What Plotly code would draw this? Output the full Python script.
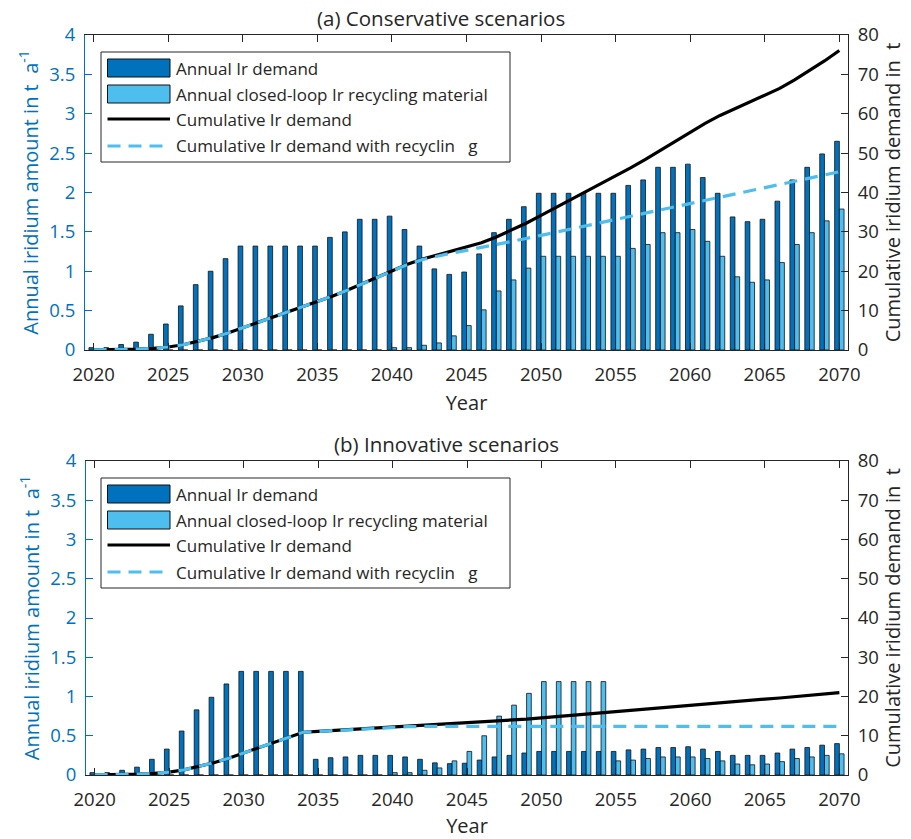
import plotly.graph_objects as go

W, H = 911, 839

years = list(range(2020, 2071))

# (a) Conservative scenarios (t/a, left axis)
cons_demand = [0.03, 0.03, 0.07, 0.10, 0.20, 0.33, 0.56, 0.83, 1.00, 1.16,
               1.32, 1.32, 1.32, 1.32, 1.32, 1.32, 1.43, 1.50, 1.66, 1.66,
               1.70, 1.53, 1.32, 1.03, 0.96, 0.99, 1.22, 1.49, 1.66, 1.82,
               1.99, 1.99, 1.99, 1.99, 1.99, 1.99, 2.09, 2.16, 2.32, 2.32,
               2.36, 2.19, 1.99, 1.69, 1.63, 1.66, 1.89, 2.16, 2.32, 2.49,
               2.65]
cons_recycling = [0, 0, 0, 0, 0, 0, 0, 0, 0, 0,
                  0, 0, 0, 0, 0, 0, 0, 0, 0, 0,
                  0.03, 0.03, 0.06, 0.09, 0.18, 0.31, 0.51, 0.75, 0.89, 1.04,
                  1.19, 1.19, 1.19, 1.19, 1.19, 1.19, 1.29, 1.34, 1.49, 1.49,
                  1.53, 1.38, 1.19, 0.93, 0.86, 0.89, 1.11, 1.34, 1.49, 1.64,
                  1.79]
# cumulative (t, right axis)
cons_cum = [0.03, 0.06, 0.13, 0.23, 0.43, 0.76, 1.32, 2.15, 3.15, 4.31,
            5.63, 6.95, 8.27, 9.59, 10.91, 12.23, 13.66, 15.16, 16.82, 18.48,
            20.18, 21.71, 23.03, 24.06, 25.02, 26.01, 27.23, 28.72, 30.38, 32.20,
            34.19, 36.18, 38.17, 40.16, 42.15, 44.14, 46.23, 48.39, 50.71, 53.03,
            55.39, 57.58, 59.57, 61.26, 62.89, 64.55, 66.44, 68.60, 70.92, 73.41,
            76.06]
cons_cum_rec = [0.03, 0.06, 0.13, 0.23, 0.43, 0.76, 1.32, 2.15, 3.15, 4.31,
                5.63, 6.95, 8.27, 9.59, 10.91, 12.23, 13.66, 15.16, 16.82, 18.48,
                20.15, 21.65, 22.91, 23.85, 24.63, 25.31, 26.02, 26.76, 27.53, 28.31,
                29.11, 29.91, 30.71, 31.51, 32.31, 33.11, 33.91, 34.73, 35.56, 36.39,
                37.22, 38.03, 38.83, 39.59, 40.36, 41.13, 41.91, 42.73, 43.56, 44.41,
                45.27]

# (b) Innovative scenarios
inno_demand = [0.03, 0.03, 0.06, 0.10, 0.20, 0.33, 0.56, 0.83, 0.99, 1.16,
               1.32, 1.32, 1.32, 1.32, 1.32, 0.20, 0.22, 0.23, 0.25, 0.25,
               0.25, 0.23, 0.20, 0.155, 0.145, 0.15, 0.19, 0.23, 0.25, 0.28,
               0.30, 0.30, 0.30, 0.30, 0.30, 0.30, 0.32, 0.33, 0.35, 0.35,
               0.36, 0.33, 0.30, 0.25, 0.25, 0.25, 0.28, 0.33, 0.35, 0.38,
               0.40]
inno_recycling = [0, 0, 0, 0, 0, 0, 0, 0, 0, 0,
                  0, 0, 0, 0, 0, 0, 0, 0, 0, 0,
                  0.03, 0.03, 0.06, 0.09, 0.18, 0.30, 0.50, 0.75, 0.89, 1.04,
                  1.19, 1.19, 1.19, 1.19, 1.19, 0.18, 0.19, 0.21, 0.23, 0.23,
                  0.23, 0.21, 0.18, 0.14, 0.13, 0.14, 0.17, 0.21, 0.23, 0.25,
                  0.27]
inno_cum = [0.03, 0.06, 0.12, 0.22, 0.42, 0.75, 1.31, 2.14, 3.13, 4.29,
            5.61, 6.93, 8.25, 9.57, 10.89, 11.09, 11.31, 11.54, 11.79, 12.04,
            12.29, 12.52, 12.72, 12.88, 13.02, 13.20, 13.42, 13.68, 13.95, 14.25,
            14.57, 14.89, 15.21, 15.52, 15.83, 16.14, 16.47, 16.81, 17.17, 17.53,
            17.90, 18.24, 18.55, 18.81, 19.07, 19.33, 19.62, 19.96, 20.32, 20.71,
            21.00]
inno_cum_rec = [0.03, 0.06, 0.12, 0.22, 0.42, 0.75, 1.31, 2.14, 3.13, 4.29,
                5.61, 6.93, 8.25, 9.57, 10.89, 11.09, 11.31, 11.54, 11.79, 12.04,
                12.20, 12.30, 12.38, 12.40, 12.40, 12.40, 12.40, 12.40, 12.40, 12.40,
                12.40, 12.40, 12.40, 12.40, 12.40, 12.40, 12.40, 12.40, 12.40, 12.40,
                12.40, 12.40, 12.40, 12.40, 12.40, 12.40, 12.40, 12.40, 12.40, 12.40,
                12.40]

legend_labels = ["Annual Ir demand",
                 "Annual closed-loop Ir recycling material",
                 "Cumulative Ir demand",
                 "Cumulative Ir demand with recyclin\u00a0\u00a0\u00a0g"]
titles = ["(a) Conservative scenarios", "(b) Innovative scenarios"]
xticks = list(range(2020, 2071, 5))

DARK = "#0072BD"
LIGHT = "#4DBEEE"
TXT = "#262626"
FONT = "Open Sans"


def px(x):
    return x / W


def py(y):
    return 1 - y / H


# panel pixel boxes (left, right, top, bottom)
panels = [(85, 848, 35, 350), (86, 848, 461, 775)]
title_cx = [441, 446]
data = [(cons_demand, cons_recycling, cons_cum, cons_cum_rec),
        (inno_demand, inno_recycling, inno_cum, inno_cum_rec)]

fig = go.Figure()
shapes = []
annotations = []
layout_axes = {}

for i, ((L, R, T, B), (dem, rec, cum, cumrec)) in enumerate(zip(panels, data)):
    xa = "x" if i == 0 else "x2"
    ya = "y" if i == 0 else "y3"
    ya2 = "y2" if i == 0 else "y4"
    fig.add_trace(go.Bar(x=years, y=dem, name=legend_labels[0], xaxis=xa, yaxis=ya,
                         marker=dict(color=DARK, line=dict(color="#111111", width=0.8)),
                         showlegend=False))
    fig.add_trace(go.Bar(x=years, y=rec, name=legend_labels[1], xaxis=xa, yaxis=ya,
                         marker=dict(color=LIGHT, line=dict(color="#111111", width=0.8)),
                         showlegend=False))
    fig.add_trace(go.Scatter(x=years, y=cum, name=legend_labels[2], xaxis=xa, yaxis=ya2,
                             mode="lines", line=dict(color="black", width=3.2),
                             showlegend=False))
    fig.add_trace(go.Scatter(x=years, y=cumrec, name=legend_labels[3], xaxis=xa, yaxis=ya2,
                             mode="lines", line=dict(color=LIGHT, width=3.2, dash="13px,8px"),
                             showlegend=False))

    xkey = "xaxis" if i == 0 else "xaxis2"
    ykey = "yaxis" if i == 0 else "yaxis3"
    y2key = "yaxis2" if i == 0 else "yaxis4"
    layout_axes[xkey] = dict(
        domain=[px(L), px(R)], anchor=ya, range=[2019.42, 2070.58], automargin=False,
        tickvals=xticks, ticks="inside", ticklen=7, tickwidth=1, tickcolor=TXT,
        showline=True, linecolor=TXT, linewidth=1, mirror="ticks",
        showgrid=False, zeroline=False, ticklabelstandoff=8,
        tickfont=dict(family=FONT, size=18.5, color=TXT),
        title=dict(text="Year", font=dict(family=FONT, size=20, color=TXT), standoff=10),
    )
    layout_axes[ykey] = dict(
        domain=[py(B), py(T)], anchor=xa, range=[0, 4], dtick=0.5, automargin=False,
        ticks="inside", ticklen=7, tickwidth=1, tickcolor=DARK,
        showline=True, linecolor=DARK, linewidth=1,
        showgrid=False, zeroline=False, ticklabelstandoff=5,
        tickfont=dict(family=FONT, size=18.5, color=DARK),
        title=dict(text="Annual iridium amount in t\u00a0\u00a0a<sup>-1</sup>",
                   font=dict(family=FONT, size=20, color=DARK), standoff=5),
    )
    layout_axes[y2key] = dict(
        overlaying=ya, side="right", anchor=xa, range=[0, 80], dtick=10, automargin=False,
        ticks="inside", ticklen=7, tickwidth=1, tickcolor=TXT,
        showline=True, linecolor=TXT, linewidth=1,
        showgrid=False, zeroline=False, ticklabelstandoff=5,
        tickfont=dict(family=FONT, size=18.5, color=TXT),
        title=dict(text="Cumulative iridium demand in\u00a0\u00a0t",
                   font=dict(family=FONT, size=20, color=TXT), standoff=6),
    )

    # panel title
    annotations.append(dict(text=titles[i], x=px(title_cx[i]), y=py(T - 17),
                            xref="paper", yref="paper", showarrow=False,
                            xanchor="center", yanchor="middle",
                            font=dict(family=FONT, size=20.5, color=TXT)))

    # legend box
    dy = T - 35
    lx0, lx1, ly0, ly1 = 101, 510, 52 + dy, 162 + dy
    shapes.append(dict(type="rect", xref="paper", yref="paper",
                       x0=px(lx0), x1=px(lx1), y0=py(ly1), y1=py(ly0),
                       fillcolor="white", line=dict(color=TXT, width=1), layer="above"))
    sx0, sx1 = 107.5, 170
    rows = [68 + dy, 94 + dy, 119 + dy, 146 + dy]
    shapes.append(dict(type="rect", xref="paper", yref="paper",
                       x0=px(sx0), x1=px(sx1), y0=py(rows[0] + 9), y1=py(rows[0] - 9),
                       fillcolor=DARK, line=dict(color="#111111", width=1), layer="above"))
    shapes.append(dict(type="rect", xref="paper", yref="paper",
                       x0=px(sx0), x1=px(sx1), y0=py(rows[1] + 9), y1=py(rows[1] - 9),
                       fillcolor=LIGHT, line=dict(color="#111111", width=1), layer="above"))
    shapes.append(dict(type="line", xref="paper", yref="paper",
                       x0=px(sx0), x1=px(sx1), y0=py(rows[2]), y1=py(rows[2]),
                       line=dict(color="black", width=3.2), layer="above"))
    shapes.append(dict(type="line", xref="paper", yref="paper",
                       x0=px(sx0), x1=px(sx1), y0=py(rows[3]), y1=py(rows[3]),
                       line=dict(color=LIGHT, width=3.2, dash="13px,8px"), layer="above"))
    for lab, ry in zip(legend_labels, rows):
        annotations.append(dict(text=lab, x=px(174), y=py(ry), xref="paper", yref="paper",
                                showarrow=False, xanchor="left", yanchor="middle",
                                font=dict(family=FONT, size=17, color=TXT)))

fig.update_layout(
    width=W, height=H,
    margin=dict(l=0, r=0, t=0, b=0),
    paper_bgcolor="white", plot_bgcolor="white",
    barmode="group", bargap=0.37, bargroupgap=0.0,
    showlegend=False,
    shapes=shapes, annotations=annotations,
    font=dict(family=FONT, color=TXT),
    **layout_axes,
)

fig.write_html("out.html")
